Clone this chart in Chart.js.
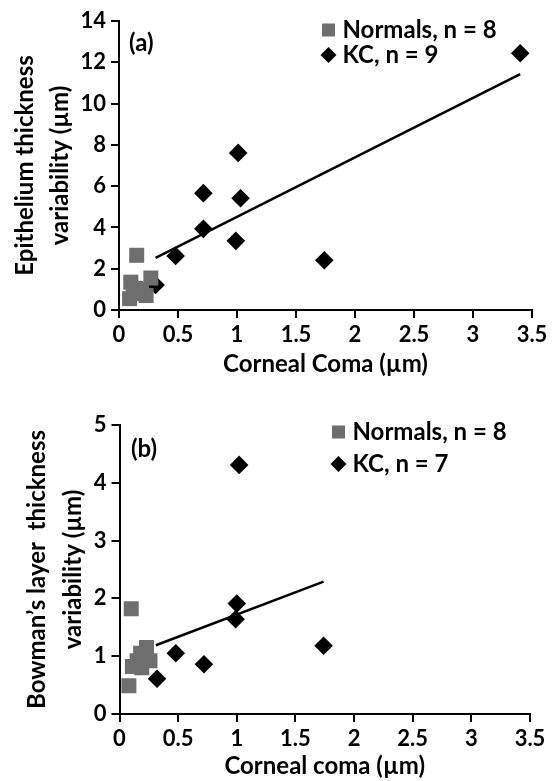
<!DOCTYPE html>
<html>
<head>
<meta charset="utf-8">
<script src="https://cdn.jsdelivr.net/npm/chart.js@4.4.1/dist/chart.umd.min.js"></script>
<style>
  html, body { margin: 0; padding: 0; background: #fff; }
  body { width: 552px; height: 781px; position: relative; overflow: hidden; }
  canvas { position: absolute; left: 0; }
  #chartA { top: 0; }
  #chartB { top: 390px; }
</style>
</head>
<body>
<canvas id="chartA" width="552" height="390"></canvas>
<canvas id="chartB" width="552" height="391"></canvas>
<script>
// (a) epithelium thickness variability vs corneal coma
const normalsComaA = [0.15, 0.10, 0.27, 0.19, 0.14, 0.09, 0.23, 0.12];
const normalsVarA  = [2.65, 1.35, 1.55, 1.00, 1.05, 0.55, 0.70, 0.80];
const kcComaA = [0.31, 0.48, 0.715, 0.715, 0.99, 1.01, 1.03, 1.74, 3.40];
const kcVarA  = [1.21, 2.62, 5.66, 3.93, 3.35, 7.61, 5.41, 2.41, 12.44];
const trendComaA = [0.31, 3.40];
const trendVarA  = [2.53, 11.43];

// (b) Bowman's layer thickness variability vs corneal coma
const normalsComaB = [0.10, 0.08, 0.11, 0.15, 0.19, 0.18, 0.23, 0.26];
const normalsVarB  = [1.82, 0.49, 0.82, 0.92, 0.80, 1.05, 1.15, 0.92];
const kcComaB = [1.02, 1.00, 0.99, 1.74, 0.48, 0.72, 0.32];
const kcVarB  = [4.31, 1.91, 1.64, 1.18, 1.05, 0.86, 0.61];
const trendComaB = [0.31, 1.74];
const trendVarB  = [1.19, 2.29];

const xTicks = [0, 0.5, 1, 1.5, 2, 2.5, 3, 3.5];

Chart.defaults.font.family = 'Lato, "Open Sans", sans-serif';
Chart.defaults.font.weight = 'bold';
Chart.defaults.color = '#000';

const GREY = '#6e6e6e';

function pts(xs, ys) {
    return xs.map((x, i) => ({ x: x, y: ys[i] }));
}

// draws the panel letter and the legend inside the plot
const panelText = {
    id: 'panelText',
    afterDraw(chart, args, opts) {
        const ctx = chart.ctx;
        ctx.save();
        ctx.fillStyle = '#000';
        ctx.font = 'bold 24px Lato';
        ctx.textBaseline = 'middle';
        ctx.textAlign = 'left';
        ctx.fillText(opts.label, opts.labelX, opts.labelY);

        const ds = chart.data.datasets;
        // square
        ctx.fillStyle = GREY;
        ctx.fillRect(opts.legX - 6.5, opts.legY[0] - 6.5, 13, 13);
        // diamond
        ctx.fillStyle = '#000';
        ctx.beginPath();
        ctx.moveTo(opts.legX - 8, opts.legY[1]);
        ctx.lineTo(opts.legX, opts.legY[1] - 8);
        ctx.lineTo(opts.legX + 8, opts.legY[1]);
        ctx.lineTo(opts.legX, opts.legY[1] + 8);
        ctx.closePath();
        ctx.fill();
        ctx.font = 'bold 24px Lato';
        ctx.fillText(ds[0].label, opts.legX + 14, opts.legY[0]);
        ctx.fillText(ds[1].label, opts.legX + 14, opts.legY[1]);
        ctx.restore();
    }
};

function makeChart(id, cfg) {
    const ctx = document.getElementById(id).getContext('2d');
    return new Chart(ctx, {
        type: 'scatter',
        data: {
            datasets: [
                {
                    label: cfg.normLabel,
                    data: cfg.normals,
                    pointStyle: 'rect',
                    pointRadius: 10.6,
                    backgroundColor: GREY,
                    borderWidth: 0
                },
                {
                    label: cfg.kcLabel,
                    data: cfg.kc,
                    pointStyle: 'rectRot',
                    pointRadius: 9.3,
                    backgroundColor: '#000',
                    borderWidth: 0
                },
                {
                    label: 'trend',
                    data: cfg.trend,
                    showLine: true,
                    borderColor: '#000',
                    borderWidth: 2.5,
                    pointRadius: 0
                }
            ]
        },
        options: {
            responsive: false,
            animation: false,
            devicePixelRatio: 1,
            layout: { padding: cfg.padding },
            plugins: {
                legend: { display: false },
                tooltip: { enabled: false },
                panelText: cfg.text
            },
            scales: {
                x: {
                    type: 'linear',
                    min: 0,
                    max: 3.5,
                    afterBuildTicks: (axis) => { axis.ticks = xTicks.map(v => ({ value: v })); },
                    afterFit: (axis) => { axis.height = cfg.xHeight; },
                    grid: { display: true, drawOnChartArea: false, color: '#000', lineWidth: 2, tickLength: 8 },
                    border: { color: '#000', width: 2 },
                    ticks: {
                        font: { size: 22, weight: 'bold' },
                        padding: 4,
                        maxRotation: 0,
                        callback: (v) => String(v)
                    },
                    title: {
                        display: true,
                        text: cfg.xTitle,
                        font: { size: 24, weight: 'bold', lineHeight: 1.2 },
                        padding: { top: 0, bottom: cfg.xTitlePad }
                    }
                },
                y: {
                    min: 0,
                    max: cfg.yMax,
                    ticks: { stepSize: cfg.yStep, font: { size: 22, weight: 'bold' }, padding: 5 },
                    afterFit: (axis) => { axis.width = cfg.yWidth; },
                    grid: { display: true, drawOnChartArea: false, color: '#000', lineWidth: 2, tickLength: 8 },
                    border: { color: '#000', width: 2 },
                    title: {
                        display: true,
                        text: cfg.yTitle,
                        font: { size: 24, weight: 'bold', lineHeight: cfg.yLine },
                        padding: { top: cfg.yTitlePad, bottom: 0 }
                    }
                }
            }
        },
        plugins: [panelText]
    });
}

makeChart('chartA', {
    normLabel: 'Normals, n = 8',
    kcLabel: 'KC, n = 9',
    normals: pts(normalsComaA, normalsVarA),
    kc: pts(kcComaA, kcVarA),
    trend: pts(trendComaA, trendVarA),
    yMax: 14,
    yStep: 2,
    padding: { left: 0, right: 20, top: 21, bottom: 0 },
    xHeight: 80,
    yWidth: 119,
    xTitle: 'Corneal Coma (\u00b5m)',
    xTitlePad: 11,
    yTitle: ['Epithelium thickness', 'variability (\u00b5m)'],
    yLine: 1.45,
    yTitlePad: 8,
    text: { label: '(a)', labelX: 129, labelY: 43, legX: 328.5, legY: [30, 55] }
});

makeChart('chartB', {
    normLabel: 'Normals, n = 8',
    kcLabel: 'KC, n = 7',
    normals: pts(normalsComaB, normalsVarB),
    kc: pts(kcComaB, kcVarB),
    trend: pts(trendComaB, trendVarB),
    yMax: 5,
    yStep: 1,
    padding: { left: 0, right: 22, top: 35, bottom: 0 },
    xHeight: 67,
    yWidth: 119.5,
    xTitle: 'Corneal coma (\u00b5m)',
    xTitlePad: 0,
    yTitle: ['Bowman\u2019s layer  thickness', 'variability (\u00b5m)'],
    yLine: 1.5,
    yTitlePad: 19,
    text: { label: '(b)', labelX: 131, labelY: 59, legX: 338.5, legY: [42, 74] }
});
</script>
</body>
</html>
